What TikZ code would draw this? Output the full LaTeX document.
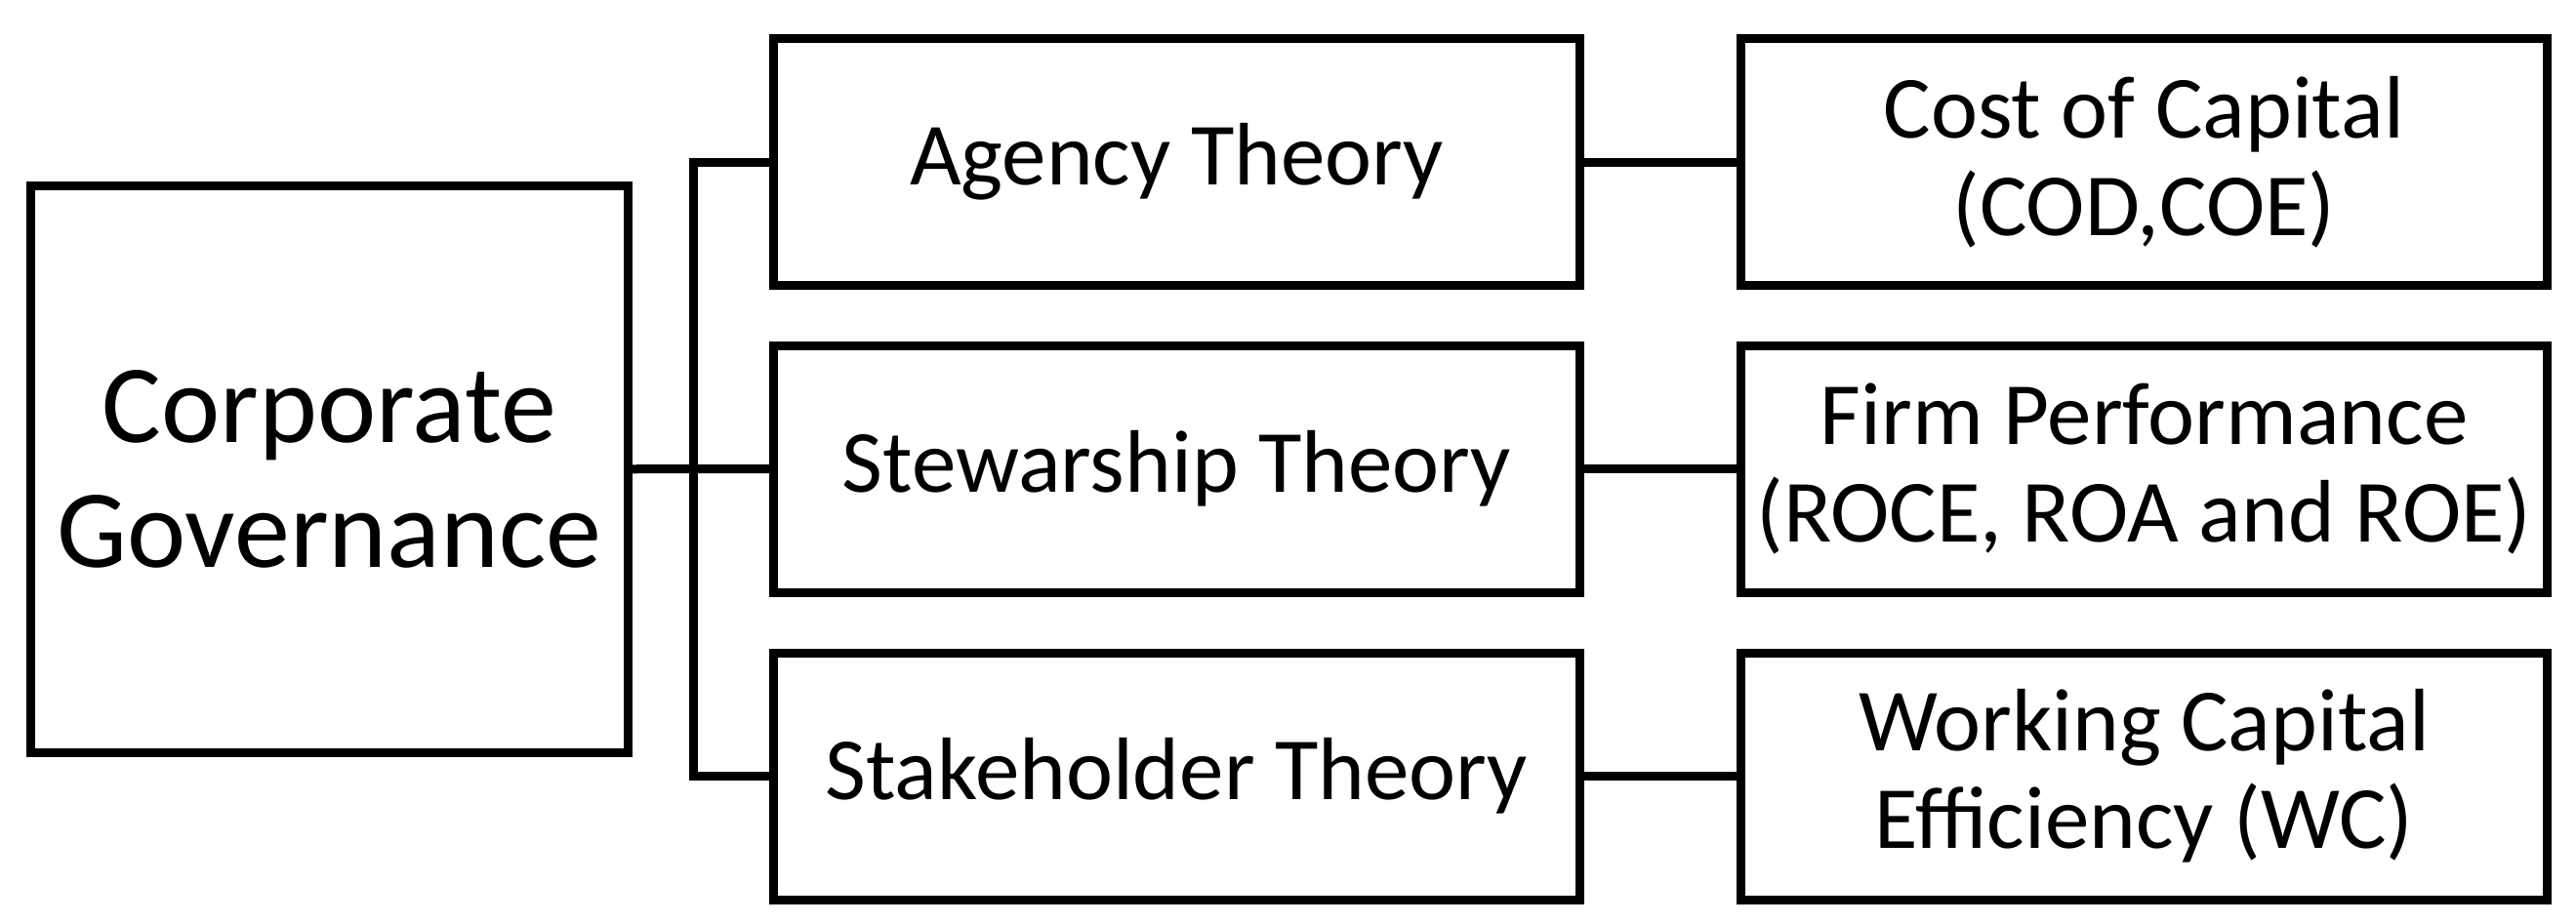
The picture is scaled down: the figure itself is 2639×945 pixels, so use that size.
\documentclass[tikz,border=0pt]{standalone}
\usepackage{fontspec}
\setmainfont{Carlito}
\begin{document}
\begin{tikzpicture}[x=0.25pt,y=-0.25pt,line width=2.25pt,line join=miter,
  box/.style={draw,rectangle,inner sep=0pt,outer sep=0pt,align=center,
    minimum width=826*0.25pt,minimum height=253*0.25pt,
    font=\fontsize{22.75pt}{25pt}\selectfont},
  bigbox/.style={draw,rectangle,inner sep=0pt,outer sep=0pt,align=center,
    minimum width=612.5*0.25pt,minimum height=581.5*0.25pt,
    font=\fontsize{28.5pt}{32pt}\selectfont}]
\useasboundingbox (0,0) rectangle (2639,945);
\node[bigbox] (cg) at (337.25,480.75) {Corporate\\Governance};
\node[box] (ag) at (1205.5,166) {Agency Theory};
\node[box] (sw) at (1205.5,480.5) {Stewarship Theory};
\node[box] (sk) at (1205.5,795.5) {Stakeholder Theory};
\node[box] (cc) at (2196.5,166) {Cost of Capital\\(COD,COE)};
\node[box] (fp) at (2196.5,480.5) {Firm Performance\\(ROCE, ROA and ROE)};
\node[box] (wc) at (2196.5,795.5) {Working Capital\\Efficiency (WC)};
\coordinate (bus) at (710.5,480.5);
\draw (cg.east) -- (sw.west);
\draw (ag.west) -- (ag.west -| bus) -- (sk.west -| bus) -- (sk.west);
\draw (ag) -- (cc);
\draw (sw) -- (fp);
\draw (sk) -- (wc);
\end{tikzpicture}
\end{document}
